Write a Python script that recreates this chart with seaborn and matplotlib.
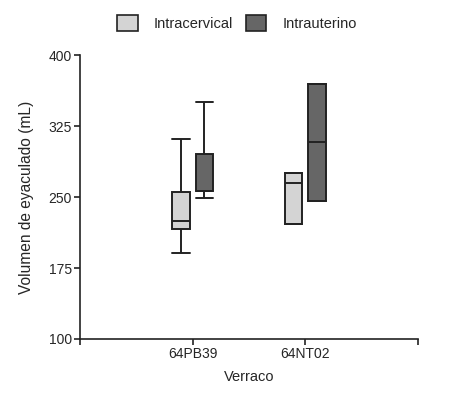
import matplotlib
matplotlib.use("Agg")
import matplotlib.pyplot as plt
import seaborn as sns
import pandas as pd
from matplotlib.patches import Patch

verracos = ["64PB39", "64NT02"]
metodos = ["Intracervical", "Intrauterino"]
pb39_intracervical = [191, 216, 225, 255, 311]
pb39_intrauterino = [249, 256, 256, 295, 350]
nt02_intracervical = [221, 221, 265, 275, 275]
nt02_intrauterino = [246, 246, 308, 369, 369]
colores = ["#d4d4d4", "#666666"]
y_ticks = [100, 175, 250, 325, 400]

rows = []
for v, m, vals in [("64PB39", "Intracervical", pb39_intracervical),
                   ("64PB39", "Intrauterino", pb39_intrauterino),
                   ("64NT02", "Intracervical", nt02_intracervical),
                   ("64NT02", "Intrauterino", nt02_intrauterino)]:
    for x in vals:
        rows.append({"Verraco": v, "Metodo": m, "Volumen": x})
df = pd.DataFrame(rows)

sns.set_style("ticks")
plt.rcParams['font.family'] = ['Liberation Sans', 'DejaVu Sans']

fig = plt.figure(figsize=(4.53, 3.95), dpi=100)
ax = fig.add_axes([80/453, 1-339/395, (418-80)/453, (339-55)/395])

box_w = 0.416
gap = 0.25
sns.boxplot(data=df, x="Verraco", y="Volumen", hue="Metodo", order=verracos,
            hue_order=metodos, palette=colores, width=box_w, gap=gap,
            whis=1.5, linewidth=1.4, linecolor="#222222", showfliers=False,
            ax=ax, legend=False, capwidths=box_w / 2 * (1 - gap))

ax.set_xlim(-1, 2)
ax.set_xticks([-1, 0, 1, 2])
ax.set_xticklabels(["", "64PB39", "64NT02", ""], fontsize=10)
ax.set_ylim(100, 400)
ax.set_yticks(y_ticks)
ax.set_yticklabels([str(t) for t in y_ticks], fontsize=10)
ax.tick_params(axis="both", length=4, width=1.2, color="#222222", pad=2)
for s in ["left", "bottom"]:
    ax.spines[s].set_linewidth(1.2)
    ax.spines[s].set_color("#222222")
ax.spines["top"].set_visible(False)
ax.spines["right"].set_visible(False)
ax.set_xlabel("Verraco", fontsize=10.5, labelpad=6)
ax.set_ylabel("Volumen de eyaculado (mL)", fontsize=11.2, labelpad=10)

handles = [Patch(facecolor=c, edgecolor="#222222", linewidth=1.2) for c in colores]
fig.legend(handles, metodos, loc="center", bbox_to_anchor=(237/453, 1-23/395),
           ncol=2, frameon=False, fontsize=10.5, handlelength=1.4, handleheight=1.4,
           columnspacing=0.9, handletextpad=1.1)

fig.savefig("out.png", dpi=100)
